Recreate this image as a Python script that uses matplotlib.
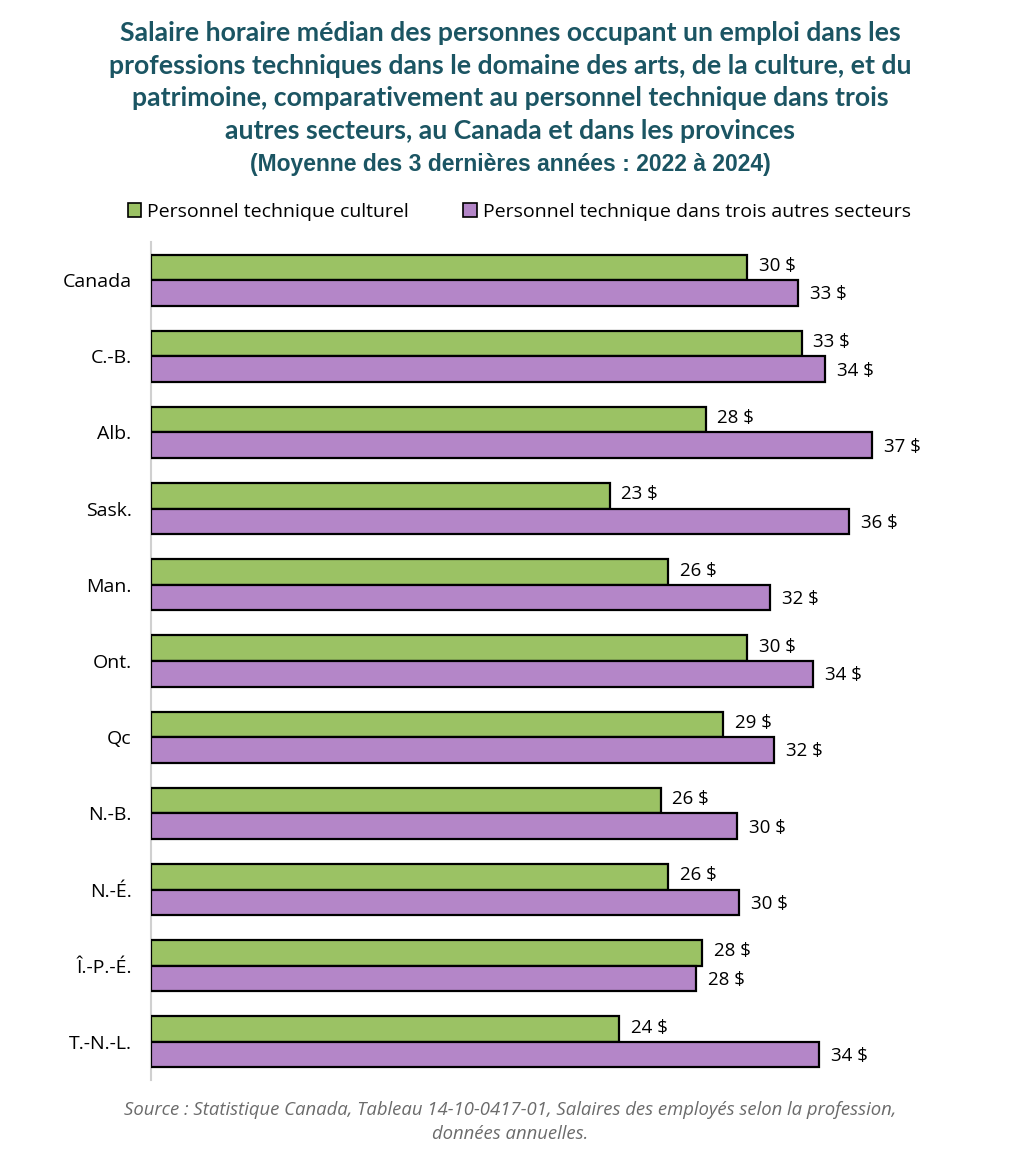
import matplotlib
matplotlib.use("Agg")
import matplotlib.pyplot as plt
from matplotlib.patches import Patch
import numpy as np

regions = ["Canada", "C.-B.", "Alb.", "Sask.", "Man.", "Ont.", "Qc", "N.-B.", "N.-É.", "Î.-P.-É.", "T.-N.-L."]
culturel = [30.4, 33.2, 28.3, 23.4, 26.4, 30.4, 29.2, 26.0, 26.4, 28.1, 23.9]
autres = [33.0, 34.4, 36.8, 35.6, 31.6, 33.8, 31.8, 29.9, 30.0, 27.8, 34.1]
series_names = ["Personnel technique culturel", "Personnel technique dans trois autres secteurs"]

title = ("Salaire horaire médian des personnes occupant un emploi dans les\n"
         "professions techniques dans le domaine des arts, de la culture, et du\n"
         "patrimoine, comparativement au personnel technique dans trois\n"
         "autres secteurs, au Canada et dans les provinces")
subtitle = "(Moyenne des 3 dernières années : 2022 à 2024)"
source = ("Source : Statistique Canada, Tableau 14-10-0417-01, Salaires des employés selon la profession,\n"
          "données annuelles.")

GREEN = "#9BC264"
PURPLE = "#B486C8"
TITLE_C = "#1B5563"

W, H = 1020, 1172
fig = plt.figure(figsize=(W / 100, H / 100), dpi=100)
ax = fig.add_axes([151 / W, 1 - 1080 / H, (960 - 151) / W, (1080 - 242) / H])

n = len(regions)
y = np.arange(n)
bh = 0.335
ax.barh(y - bh / 2, culturel, height=bh, color=GREEN, edgecolor="black", linewidth=1.6, zorder=3)
ax.barh(y + bh / 2, autres, height=bh, color=PURPLE, edgecolor="black", linewidth=1.6, zorder=3)

for i in range(n):
    ax.text(culturel[i] + 0.6, y[i] - bh / 2 - 0.02, f"{round(culturel[i])} $", va="center", ha="left",
            fontsize=13.5, family="Open Sans")
    ax.text(autres[i] + 0.6, y[i] + bh / 2 + 0.02, f"{round(autres[i])} $", va="center", ha="left",
            fontsize=13.5, family="Open Sans")

ax.set_ylim(n - 0.5, -0.5)
ax.set_xlim(0, (960 - 151) / 19.6)
ax.set_yticks(y)
ax.set_yticklabels(regions, fontsize=14, family="Open Sans")
ax.tick_params(axis="y", length=0, pad=14)
ax.set_xticks([])
for s in ["top", "right", "bottom"]:
    ax.spines[s].set_visible(False)
ax.spines["left"].set_color("#D0D0D0")
ax.spines["left"].set_linewidth(1.5)

fig.text(0.5, 1 - 82 / H, title, ha="center", va="center", fontsize=19.2, fontweight="bold",
         color=TITLE_C, family="Lato", linespacing=1.43)
fig.text(0.5, 1 - 164 / H, subtitle, ha="center", va="center", fontsize=16.5, fontweight="bold",
         color=TITLE_C, family=["Liberation Sans", "DejaVu Sans"])

handles = [Patch(facecolor=GREEN, edgecolor="black", linewidth=1.2),
           Patch(facecolor=PURPLE, edgecolor="black", linewidth=1.2)]
fig.legend(handles, series_names, loc="center", bbox_to_anchor=(0.509, 1 - 212 / H), ncol=2,
           frameon=False, prop={"family": "Open Sans", "size": 14}, handlelength=0.7, handleheight=0.7,
           handletextpad=0.3, columnspacing=2.8)

fig.text(0.5, 1 - 1122 / H, source, ha="center", va="center", fontsize=13.3, style="italic",
         color="#6B6B6B", family="Open Sans", linespacing=1.45)

fig.savefig("out.png", dpi=100)
